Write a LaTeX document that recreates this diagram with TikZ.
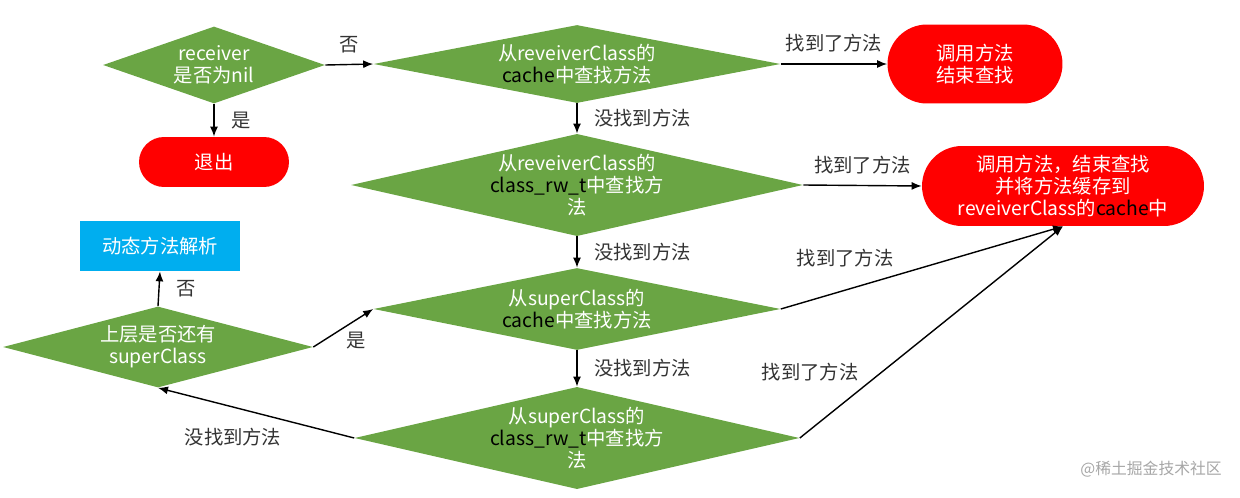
\documentclass[tikz,border=0pt]{standalone}
\usepackage{fontspec}
\setmainfont{Noto Sans CJK SC}
\usetikzlibrary{shapes.geometric,arrows.meta,positioning}
\definecolor{check}{HTML}{6AA544}
\definecolor{stop}{HTML}{FF0000}
\definecolor{resolve}{HTML}{00AEEF}
\definecolor{labeltext}{HTML}{333333}
\tikzset{
    % Decision style
    decision/.style={
        diamond,
        inner sep=0pt,
        align=center,
        font=\fontsize{11}{12.5}\selectfont,
        text=white,
        fill=check
    },
    % Terminal style
    terminal/.style={
        rectangle,
        rounded corners=#1,
        align=center,
        font=\fontsize{11}{12.5}\selectfont,
        text=white,
        fill=stop
    },
    % Arrow style
    flow/.style={
        -{Latex[length=2mm, width=1.6mm]},
        line width=0.8pt,
        color=black
    },
    % Label style
    label text/.style={
        font=\fontsize{11}{13}\selectfont,
        text=labeltext
    }
}
\newcommand{\bk}[1]{\textcolor{black}{#1}}

\begin{document}
\begin{tikzpicture}[x=0.02cm, y=0.02cm]
        \useasboundingbox (0,0) rectangle (1240,-497);

        % Receiver check
        \node[decision, shape aspect=2.8, minimum width=4.44cm, minimum height=1.54cm] (recv) at (214,-65) {receiver\\是否为nil};
        \node[terminal=0.5cm, minimum width=3cm, minimum height=1cm] (exit) at (214,-162) {退出};

        % Own class path
        \node[decision, shape aspect=5.2, minimum width=8.14cm, minimum height=1.56cm] (owncache) at (577,-64) {从reveiverClass的\\\bk{cache}中查找方法};
        \node[decision, shape aspect=4.3, minimum width=9.04cm, minimum height=1.7cm] (ownrw) at (577,-185) {从reveiverClass的\\\bk{class\_rw\_t}中查找方\\法};
        \node[terminal=0.79cm, minimum width=3.5cm, minimum height=1.58cm] (call) at (975,-64) {调用方法\\结束查找};
        \node[terminal=0.8cm, minimum width=5.64cm, minimum height=1.6cm] (callsave) at (1063,-186) {调用方法，结束查找\\并将方法缓存到\\reveiverClass的\bk{cache}中};

        % Super class path
        \node[decision, shape aspect=5, minimum width=8.14cm, minimum height=1.64cm] (supcache) at (577,-309) {从superClass的\\\bk{cache}中查找方法};
        \node[decision, shape aspect=4.3, minimum width=8.9cm, minimum height=1.74cm] (suprw) at (577,-438) {从superClass的\\\bk{class\_rw\_t}中查找方\\法};
        \node[decision, shape aspect=3.8, minimum width=6.2cm, minimum height=1.62cm] (hassup) at (158,-347) {上层是否还有\\superClass};
        \node[rectangle, fill=resolve, text=white, font=\fontsize{11}{13}\selectfont, minimum width=3.2cm, minimum height=1.0cm] (dyn) at (160,-246) {动态方法解析};

        % Connections with labels
        \draw[flow] (recv.east) -- node[label text, above=3pt] {否} (owncache.west);
        \draw[flow] (recv.south) -- node[label text, right=6pt] {是} (exit.north);
        \draw[flow] (owncache.east) -- node[label text, above=3pt] {找到了方法} (call.west);
        \draw[flow] (owncache.south) -- node[label text, right=6pt] {没找到方法} (ownrw.north);
        \draw[flow] (ownrw.east) -- node[label text, above=3pt] {找到了方法} (callsave.west);
        \draw[flow] (ownrw.south) -- node[label text, right=6pt] {没找到方法} (supcache.north);
        \draw[flow] (supcache.south) -- node[label text, right=6pt] {没找到方法} (suprw.north);
        \draw[flow] (supcache.east) -- (callsave.south);
        \draw[flow] (suprw.east) -- (callsave.south);
        \draw[flow] (suprw.west) -- (hassup.south);
        \draw[flow] (hassup.east) -- (supcache.west);
        \draw[flow] (hassup.north) -- node[label text, right=6pt] {否} (dyn.south);

        % Free labels
        \node[label text] (lfound1) at (845,-258) {找到了方法};
        \node[label text] (lfound2) at (810,-372) {找到了方法};
        \node[label text] (lnotfound) at (233,-437) {没找到方法};
        \node[label text] (lyes) at (356,-341) {是};
        \node[font=\fontsize{9}{11}\selectfont, text=gray!70, anchor=east] (mark) at (1228,-469) {@稀土掘金技术社区};

    \end{tikzpicture}
\end{document}
